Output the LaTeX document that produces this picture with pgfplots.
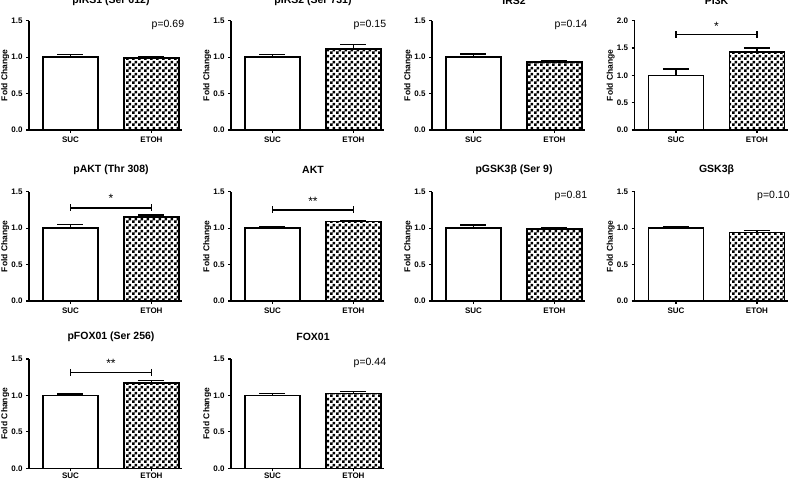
\documentclass[border=0pt]{standalone}
\usepackage{pgfplots}
\pgfplotsset{compat=1.18}
\usepackage{fontspec}
\setmainfont{Liberation Sans}
\usetikzlibrary{patterns}
\pgfdeclarepatternformonly{checker3}{\pgfpointorigin}{\pgfqpoint{6pt}{6pt}}{\pgfqpoint{6pt}{6pt}}{%
  \pgfpathrectangle{\pgfpointorigin}{\pgfqpoint{3pt}{3pt}}%
  \pgfpathrectangle{\pgfqpoint{3pt}{3pt}}{\pgfqpoint{3pt}{3pt}}%
  \pgfusepath{fill}}

\pgfplotsset{
  panel/.style={
    anchor=south west, scale only axis,
    width=153pt, height=109.3pt,
    xmin=-0.512, xmax=1.377, ymin=0, ymax=1.5,
    axis x line=bottom, axis y line=left,
    axis line style={-, line width=1.5pt},
    every tick/.style={black, line width=1.2pt},
    tick align=outside, major tick length=3pt,
    xtick={0,1}, xticklabels={SUC,ETOH},
    ytick={0,0.5,1,1.5}, yticklabels={0.0,0.5,1.0,1.5},
    ticklabel style={font=\fontsize{8}{9}\selectfont\bfseries},
    ylabel={Fold Change},
    ylabel style={font=\fontsize{8.5}{9}\selectfont\bfseries, at={(axis description cs:-0.155,0.5)}, anchor=center},
    title style={font=\fontsize{10.5}{12}\selectfont\bfseries, at={(axis description cs:0.536,1)}, anchor=center, yshift=16pt},
    clip=false,
    ybar, bar width=55pt, bar shift=0pt,
    error bars/y dir=plus, error bars/y explicit,
    error bars/error bar style={line width=1.5pt, black},
    error bars/error mark options={rotate=90, mark size=13pt, line width=1.5pt, black},
  },
  toprow/.style={title style={yshift=-2.5pt}},
  bottomrow/.style={xticklabel style={yshift=2pt}},
  pi3k/.style={ymax=2, ytick={0,0.5,1,1.5,2}, yticklabels={0.0,0.5,1.0,1.5,2.0}},
  sucbar/.style={draw=black, fill=white, line width=1.5pt},
  etohbar/.style={draw=black, pattern=checker3, pattern color=black, line width=1.5pt},
  bracket/.style={black, line width=1.6pt, mark=|, mark size=3.5pt, mark options={line width=1.5pt}},
}

% #1 L, #2 bottom (tikz y), #3 title, #4 extra keys, #5 suc, #6 suc err, #7 etoh, #8 etoh err, #9 extras
\newcommand{\panel}[9]{%
\begin{axis}[panel, at={(#1pt,#2pt)}, title={#3}, #4]
\addplot[sucbar] coordinates {(0,#5) +- (0,#6)};
\addplot[etohbar] coordinates {(1,#7) +- (0,#8)};
#9
\end{axis}}

\newcommand{\pval}[1]{\node[anchor=east, inner sep=0pt, font=\fontsize{10.5}{12}\selectfont] at (axis description cs:1.015,0.965) {#1};}
\newcommand{\sig}[3]{% bracket y, star baseline y, stars
\addplot[bracket, sharp plot] coordinates {(0,#1) (1,#1)};
\node[anchor=base, inner sep=0pt, font=\fontsize{12}{12}\selectfont] at (axis cs:0.5,#2) {#3};}

\begin{document}
\begin{tikzpicture}
\path[use as bounding box] (0pt,0pt) rectangle (800pt,480pt);
% Row 1
\panel{29}{350}{pIRS1 (Ser 612)}{toprow}{1.00}{0.038}{0.99}{0.02}{\pval{p=0.69}}
\panel{231}{350}{pIRS2 (Ser 731)}{toprow}{1.00}{0.038}{1.11}{0.06}{\pval{p=0.15}}
\panel{432}{350}{IRS2}{toprow}{1.00}{0.04}{0.935}{0.017}{\pval{p=0.14}}
\panel{634.5}{350}{PI3K}{toprow,pi3k}{1.00}{0.117}{1.43}{0.07}{\sig{1.746}{1.82}{*}}
% Row 2
\panel{29}{179}{pAKT (Thr 308)}{}{1.00}{0.05}{1.15}{0.03}{\sig{1.28}{1.35}{*}}
\panel{231}{179}{AKT}{}{1.00}{0.02}{1.088}{0.015}{\sig{1.25}{1.317}{**}}
\panel{432}{179}{pGSK3β (Ser 9)}{}{1.00}{0.04}{0.99}{0.02}{\pval{p=0.81}}
\panel{634.5}{179}{GSK3β}{}{1.00}{0.015}{0.94}{0.03}{\pval{p=0.10}}
% Row 3
\panel{29}{11.7}{pFOX01 (Ser 256)}{bottomrow}{1.00}{0.02}{1.17}{0.035}{\sig{1.315}{1.384}{**}}
\panel{231}{11.7}{FOX01}{bottomrow}{1.00}{0.03}{1.03}{0.025}{\pval{p=0.44}}
\end{tikzpicture}
\end{document}
